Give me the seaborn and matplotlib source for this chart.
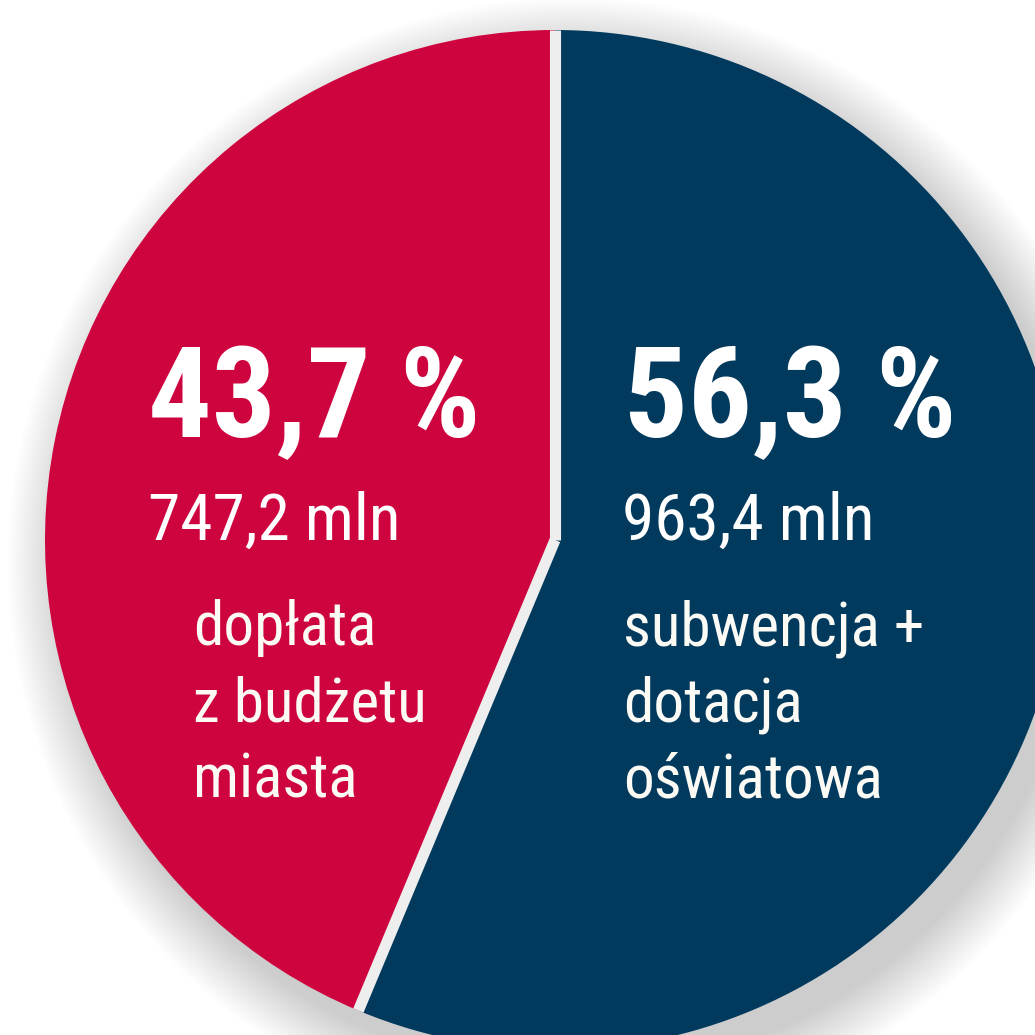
import numpy as np
import matplotlib.pyplot as plt
import matplotlib.patches as mpatches
import seaborn as sns

# data
shares = [56.3, 43.7]
amounts = ["963,4 mln", "747,2 mln"]
pct_labels = ["56,3 %", "43,7 %"]
descriptions = [["subwencja +", "dotacja", "oświatowa"],
                ["dopłata", "z budżetu", "miasta"]]
colors = ["#023A5E", "#CE043F"]

sns.set_theme(style="white")
plt.rcParams['font.family'] = ['Roboto Condensed', 'Roboto', 'DejaVu Sans']

fig = plt.figure(figsize=(10.35, 10.35), dpi=100)
ax = fig.add_axes([0, 0, 1, 1])

wedges, _ = ax.pie(shares, colors=colors, startangle=90, counterclock=False,
                   radius=1.0, wedgeprops=dict(linewidth=0))
ax.set_xlim(-555 / 510, 480 / 510)
ax.set_ylim(-495 / 510, 540 / 510)
ax.set_aspect('equal')
ax.axis('off')

# soft drop shadow
for k in range(25):
    r = 1.0 + 0.0045 * k
    ax.add_patch(mpatches.Circle((0.035, -0.045), r, color='black',
                                 alpha=0.006, lw=0, zorder=0))

for w in wedges:
    w.set_zorder(2)
    th = np.deg2rad(w.theta1)
    ax.plot([0, np.cos(th)], [0, np.sin(th)],
            color='#EEEEEE', lw=8, solid_capstyle='butt', zorder=3)


def px(x, y):
    return (x - 555) / 510, (540 - y) / 510


# text blocks: (pct x, amount x, description x)
lefts = [(624, 622, 623), (148, 148, 193)]
for i in range(2):
    x0, y0 = px(lefts[i][0], 437)
    ax.text(x0, y0, pct_labels[i], color='white', fontsize=91,
            fontweight='bold', ha='left', va='baseline', zorder=5)
    x1, y1 = px(lefts[i][1], 540)
    ax.text(x1, y1, amounts[i], color='white', fontsize=47,
            ha='left', va='baseline', zorder=5)
    for j, line in enumerate(descriptions[i]):
        x2, y2 = px(lefts[i][2], 645 + 76 * j)
        ax.text(x2, y2, line, color='#FBFAF5', fontsize=44,
                ha='left', va='baseline', zorder=5)

fig.savefig('out.png', dpi=100, facecolor='white')
